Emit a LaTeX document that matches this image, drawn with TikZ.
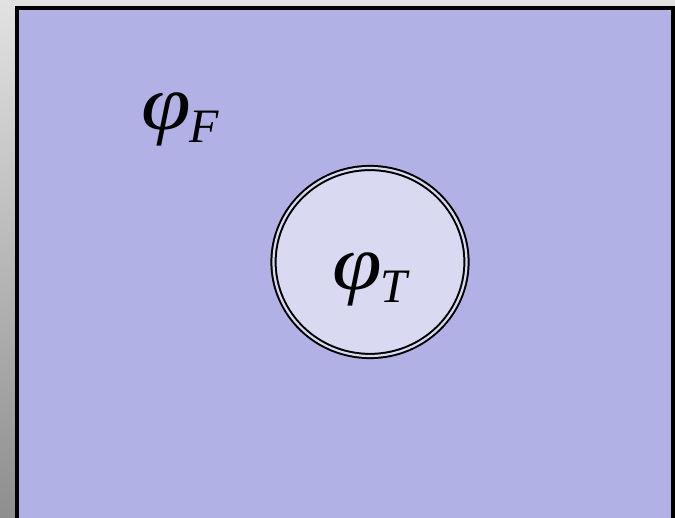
\documentclass[tikz,border=0pt]{standalone}
\usetikzlibrary{shapes.geometric}
\usepackage{fontspec}
\setmainfont{Liberation Serif}
\definecolor{bgtop}{HTML}{E2E2E2}
\definecolor{bgbot}{HTML}{8E8E8E}
\definecolor{panel}{HTML}{B1B1E6}
\definecolor{disk}{HTML}{D9D9F2}
\tikzset{
  lbl/.style={anchor=base west, inner sep=0pt, font=\fontsize{78}{78}\selectfont\itshape}
}
\newcommand{\phisym}{\scalebox{1.15}[1]{φ}}
\newcommand{\subtxt}[1]{\kern-1pt\raisebox{-13pt}{\fontsize{48}{48}\selectfont #1}}
\begin{document}
\begin{tikzpicture}[x=1pt,y=-1pt]
\useasboundingbox (0,0) rectangle (675,518);
\shade[top color=bgtop, bottom color=bgbot] (0,0) rectangle (675,518);
\path[fill=panel, draw=black, line width=4pt] (17,8.5) rectangle (673,540);
\node[draw=black, line width=2pt, double=disk, double distance=2.2pt, fill=disk,
      ellipse, minimum width=193pt, minimum height=188pt, inner sep=0pt] (c) at (370,262) {};
\node[lbl] (phiF) at (141,130) {\phisym\subtxt{F}};
\node[lbl] (phiT) at (332,290) {\phisym\subtxt{T}};
\end{tikzpicture}
\end{document}
